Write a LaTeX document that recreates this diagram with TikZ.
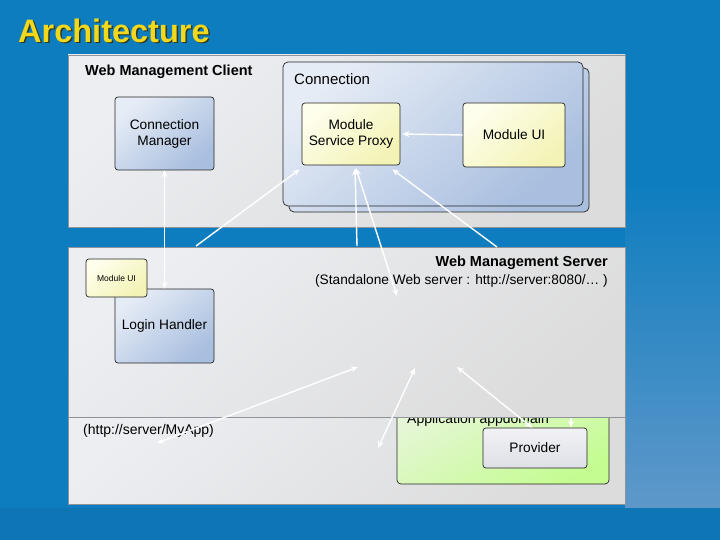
\documentclass[tikz,border=0pt]{standalone}
\usepackage{fontspec}
\setmainfont{Liberation Sans}
\usetikzlibrary{arrows.meta}
\definecolor{SlideBlue}{HTML}{0D7DBF}
\definecolor{SlideBlueLight}{HTML}{5F98CA}
\definecolor{SlideBand}{HTML}{0E76B5}
\definecolor{TitleYellow}{HTML}{F2D81C}
\definecolor{TitleShadow}{HTML}{2E3A20}
\definecolor{PanelGray}{HTML}{DCDCDC}
\definecolor{PanelLight}{HTML}{ECEEF2}
\definecolor{PanelEdge}{HTML}{8E949A}
\definecolor{BoxBlueA}{HTML}{E6ECF6}
\definecolor{BoxBlueB}{HTML}{A9BFDF}
\definecolor{BoxYellowA}{HTML}{FEFEEC}
\definecolor{BoxYellowB}{HTML}{F3F3B6}
\definecolor{BoxGreenA}{HTML}{E6F6D6}
\definecolor{BoxGreenB}{HTML}{C4FC92}
\definecolor{BoxGrayA}{HTML}{F2F2F6}
\definecolor{BoxGrayB}{HTML}{DEE0E6}

\begin{document}
\begin{tikzpicture}[x=1pt,y=-1pt,
    panel/.style={top color=PanelLight,bottom color=PanelGray,shading angle=40,draw=PanelEdge,line width=0.6pt},
    box/.style={rectangle,rounded corners=3pt,draw=black!85,line width=0.7pt,align=center,inner sep=2pt,font=\fontsize{13.7}{16}\selectfont},
    bluebox/.style={box,top color=BoxBlueA,bottom color=BoxBlueB,shading angle=40},
    yellowbox/.style={box,top color=BoxYellowA,bottom color=BoxYellowB,shading angle=40},
    graybox/.style={box,top color=BoxGrayA,bottom color=BoxGrayB},
    label/.style={inner sep=0pt,font=\fontsize{14}{16}\selectfont},
    heading/.style={inner sep=0pt,font=\fontsize{14.5}{16}\selectfont\bfseries},
    link/.style={white,line width=1.4pt,-{Stealth[length=7pt,width=6pt]}},
    dlink/.style={white,line width=1.4pt,{Stealth[length=7pt,width=6pt]}-{Stealth[length=7pt,width=6pt]}}]

      % slide background
      \fill[SlideBlue] (0,0) rectangle (720,540);
      \shade[top color=SlideBlue,bottom color=SlideBlueLight] (625,180) rectangle (720,508);
      \fill[SlideBand] (0,508) rectangle (720,540);
      \node[anchor=west,inner sep=0pt,text=TitleShadow,font=\fontsize{32.5}{38}\selectfont\bfseries] (titleshadow) at (19.5,32) {Architecture};
      \node[anchor=west,inner sep=0pt,text=TitleYellow,font=\fontsize{32.5}{38}\selectfont\bfseries] (title) at (18,30.5) {Architecture};

      % client panel
      \path[panel] (68,55) rectangle (625,227);
      \node[heading,anchor=west] (client) at (85,72) {Web Management Client};
      \path[top color=BoxBlueA,bottom color=BoxBlueB,shading angle=40,draw=black!85,line width=0.7pt,rounded corners=5pt] (289,68) rectangle (589,212);
      \path[top color=BoxBlueA,bottom color=BoxBlueB,shading angle=40,draw=black!85,line width=0.7pt,rounded corners=5pt] (283,62) rectangle (583,206);
      \node[label,anchor=west,font=\fontsize{15}{16}\selectfont] (conn) at (294,79) {Connection};
      \node[bluebox,minimum width=99pt,minimum height=73pt] (cm) at (164.5,133.5) {Connection\\Manager};
      \node[yellowbox,minimum width=98pt,minimum height=62pt] (msp) at (351,134) {Module\\Service Proxy};
      \node[yellowbox,minimum width=102pt,minimum height=64pt] (mui) at (514,135) {Module UI};

      % host panel, mostly hidden below the server panel
      \path[panel] (68,395) rectangle (625,504);
      \node[label,anchor=west] (app) at (83,431) {(http://server/MyApp)};
      \path[top color=BoxGreenA,bottom color=BoxGreenB,shading angle=30,draw=black!85,line width=0.7pt,rounded corners=4pt] (397,400) rectangle (609,484);
      \node[label,anchor=base west] (appdomain) at (407,423) {Application appdomain};
      \node[graybox,minimum width=104pt,minimum height=40pt] (prov) at (535,448) {Provider};
      \coordinate (hidA) at (571,405);
      \draw[link] (hidA) -- (prov.north -| hidA);

      % server panel
      \path[panel] (68,247) rectangle (625,417);
      \node[heading,anchor=east] (server) at (608,263) {Web Management Server};
      \node[label,anchor=east,font=\fontsize{13.7}{16}\selectfont] (serverurl) at (608,281) {(Standalone Web server : http://server:8080/\dots\ )};
      \node[bluebox,minimum width=99pt,minimum height=74pt] (lh) at (164.5,326) {Login Handler};
      \node[yellowbox,minimum width=61pt,minimum height=38pt,font=\fontsize{8.5}{10}\selectfont] (smui) at (116.5,278) {Module UI};

      % connectors
      \coordinate (srvA) at (196,246);
      \coordinate (srvB) at (357,246);
      \coordinate (srvC) at (397,296);
      \coordinate (srvD) at (497,247);
      \draw[dlink] (cm.south) -- (lh.north);
      \draw[link] (srvA) -- ([shift={(-2,4)}]msp.south west);
      \draw[link] (srvB) -- ([shift={(4,3)}]msp.south);
      \draw[dlink] (srvC) -- ([shift={(5,3)}]msp.south);
      \draw[link] (srvD) -- ([shift={(-8,4)}]msp.south east);
      \draw[link,shorten >=2pt] (mui.west) -- (msp.east);

      \coordinate (webA) at (358,367);
      \coordinate (appA) at (157,443);
      \coordinate (webB) at (415,368);
      \coordinate (appB) at (378,448);
      \coordinate (webC) at (457,367);
      \draw[dlink] (webA) -- (appA);
      \draw[dlink] (webB) -- (appB);
      \draw[dlink] (webC) -- ([xshift=-3pt]prov.north);
    \end{tikzpicture}
\end{document}
